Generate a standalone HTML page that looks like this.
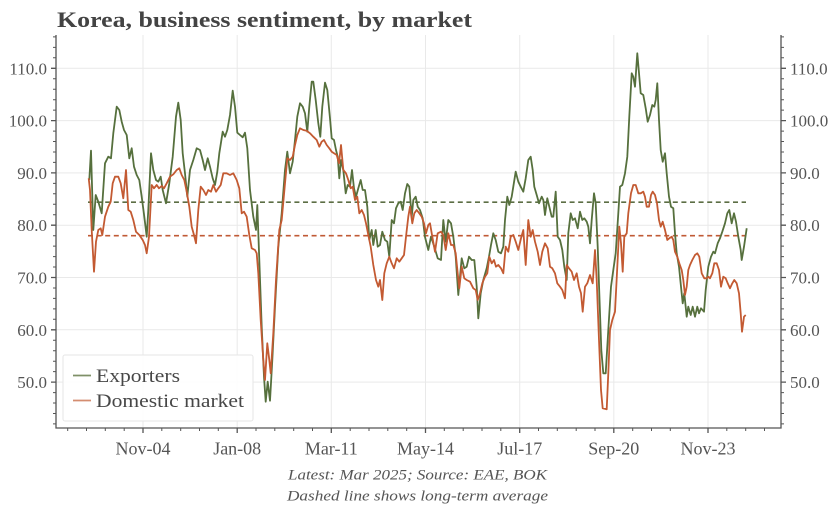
<!DOCTYPE html>
<html><head><meta charset="utf-8"><style>
html,body{margin:0;padding:0;background:#fff;}
svg{display:block;}
text{font-family:"Liberation Serif",serif;}
</style></head><body>
<svg width="835" height="506" viewBox="0 0 835 506" xmlns="http://www.w3.org/2000/svg">
<rect width="835" height="506" fill="#fff"/>
<text x="57" y="27" font-size="22" font-weight="bold" fill="#434343" textLength="415" lengthAdjust="spacingAndGlyphs">Korea, business sentiment, by market</text>
<!-- grid -->
<g stroke="#e9e9e9" stroke-width="1">
<path d="M56 68.3H781M56 120.6H781M56 172.9H781M56 225.2H781M56 277.5H781M56 329.8H781M56 382.1H781"/>
<path d="M143 35V428M237.2 35V428M331.3 35V428M425.5 35V428M519.7 35V428M613.8 35V428M708 35V428"/>
</g>
<!-- dashed averages -->
<line x1="88" y1="202.2" x2="746" y2="202.2" stroke="#5c6e44" stroke-width="1.6" stroke-dasharray="5,3.6"/>
<line x1="88" y1="235.7" x2="746" y2="235.7" stroke="#c05a35" stroke-width="1.6" stroke-dasharray="5,3.6"/>
<!-- exporters -->
<polyline fill="none" stroke="#56703d" stroke-width="1.8" stroke-linejoin="round" points="89.3,180 91,150.7 93.3,230 95.7,195 98.3,201.7 101.7,213.3 105,163.3 108.3,156.7 111,158.3 113.3,133.3 116.7,106.7 119.3,110 121.7,121.7 124,130 126.7,135 129.3,158.3 131.7,148.3 134,166.7 136.7,175 139.3,180 141.7,196.7 144.3,216.7 146.7,236.7 148.3,210 151,153.3 153.3,170 156,180 158.3,181.7 160.7,176.7 162.7,190 166,203.3 169.3,183.3 172.7,156.7 176,116.7 178.3,102.7 180.7,120 182.7,153.3 185,173.3 187.3,196.7 190,170 193.3,160 196.7,148.3 200,150 202.7,160 205,170 207.7,158.3 210,166.7 212.7,178.3 215,185 217.3,171.7 219.3,153.3 222.7,131.7 225,136.7 227.3,130 230,115 232.7,90.7 235,106.7 237.3,132.7 240,135 242.7,137.3 245,132.7 247.3,148.3 250,190 253.3,216.7 256,230 257.3,205 259.3,260 261.7,326.7 264,376.7 265.7,401.7 267.7,381.7 270,400.7 272.3,360 275,306.7 278.3,246.7 281.7,213.3 285,170 287.3,151.7 290,173.3 292.7,161.7 295,140 297.3,116.7 300,103.3 302.7,106.7 305,113.3 307.3,131.7 309.3,106.7 311.7,81.7 313.3,81.7 315.7,100 318.3,123.3 320.3,136.7 322.3,106.7 325,82.7 327.3,90 330,118.3 331.7,138.3 334,140 336,150 337.7,156.7 339.3,178.3 341,160 343.3,170 345.7,193.3 347.7,185 350,186.7 352,170 354,188.3 356,196.7 358.3,188.3 360.7,180 362.7,190 365,190 367.3,206.7 369.3,240 371.7,230 373.3,245 375.7,230 377.7,246.7 380,245 382.3,231.7 385,240 387.3,241.7 389.3,256.7 391.7,220 394,223.3 396,208.3 398.3,203.3 400.7,201.7 402.7,210 405,193.3 407.3,184 409.3,186.7 411.7,216.7 413.3,200 415.7,196.7 417.7,206.7 420,210 422.7,218.3 425,237 428.3,250 431,236.7 434.3,246.7 437.7,258.3 441,260 443.3,220 445.7,241.7 448.3,220 451,223.3 453.3,236.7 455.7,256.7 458.3,295 461.7,258.3 464.3,268.3 466.7,266.7 469,256.7 471.7,260 474.3,260 476.7,286.7 478.3,318.3 480.7,293.3 483.3,280 486.7,268.3 489,256.7 491,245 493.3,233.3 495.7,240 498.3,251.7 501,253.3 503.3,246.7 505,220 507.3,196.7 509.3,205 511.7,196.7 513.3,186.7 515.7,171.7 518.3,181.7 520.7,186.7 523.3,191.7 525.7,178.3 528.3,160 530.7,156.7 532.7,170 534.3,186.7 536.7,195 539,203.3 541.7,196.7 543.3,200 545,215 547.3,198.3 549.3,206.7 551.7,216.7 553.3,216.7 555.7,191.7 557.7,236.7 560,240 562.3,250 564.3,266.7 566.7,280 568.3,233.3 570.7,213.3 572.7,220 575,218.3 577.7,228.3 580,211.7 582.3,220 584.3,218.3 586.7,221.7 588.3,226.7 590,243.3 591.7,220 594,193.3 595.7,203.3 597.7,246.7 599.3,293.3 601.3,350 603.3,373.3 605.7,373.3 608.3,330 611,286.7 613.3,270 615.7,253.3 618.3,213.3 620,186.7 622.3,185 625,173.3 627.3,156.7 629.3,116.7 631.7,73.3 633.3,76.7 635,86.7 637.3,53.3 639.3,76.7 640.7,93.3 643.3,95 645.7,108.3 647.7,121.7 650,115 652.3,105 654.3,106.7 655.7,100 657.3,83.3 659,120 660.7,150 662.7,161.7 665,153.3 666.7,173.3 669,196.7 671,206.7 673.3,208.3 675,233.3 676.7,253.3 679,266.7 681,286.7 682.7,303.3 684.3,293.3 686.7,316.7 688.3,306.7 690.7,315 692.7,306.7 695,316.7 697.3,306.7 699,313.3 701,308.3 704,311.7 705.7,290 708.3,266.7 711,256.7 713.3,251.7 715,253.3 717.7,243.3 720,238.3 722.3,231.7 725,223.3 727.3,213.3 729.3,210 731.7,223.3 734,213.3 736,221.7 738.3,236.7 740.7,250 741.7,260 744,246.7 746.7,228.3"/>
<!-- domestic -->
<polyline fill="none" stroke="#c35a32" stroke-width="1.8" stroke-linejoin="round" points="88.7,178.3 90,190 91.7,230 94,271.7 96,241.7 98.3,230 100.7,228.3 102.3,235 105,216.7 108.3,206.7 110.7,201.7 112.7,183.3 115,176.7 118.3,176.7 120.7,183.3 123.3,198.3 126,170 128.3,210 130.7,211.7 133.3,220 136,231.7 139.3,235 142.7,240 145,245 146.7,253.3 149,236.7 151.7,185 154,188.3 156.7,185 159,188.3 161.7,186 164,188.3 166.7,183.3 170,176.7 173.3,174.3 176.7,170 179.3,168.3 181.7,175 184.3,180 186.7,191.7 189.3,206.7 191.7,226.7 194,235 196,243.3 198.3,210 200.7,186.7 203.3,190 206,195 208.3,190 211,191.7 213.3,185 216,191.7 218.3,188.3 220.7,185 223.3,173.3 226.7,173.3 230,175 233.3,173.3 236.7,180 239.3,188.3 241.7,213.3 244,211.7 246.7,216.7 249.3,235 251.7,248.3 255,250 256.7,253.3 258.3,273.3 260.7,320 263.3,360 265,380 267.3,343.3 269.3,360 270.7,373.3 273.3,333.3 276,280 279.3,230 281.7,220 285,183.3 287.3,158.3 290,160 292.7,156.7 295,145 297.3,135 300,128.3 303.3,130 306.7,130.7 310,133.3 313.3,136.7 316.7,140 319.3,146.7 321.7,141.7 324,140 326.7,145 329.3,148.3 331.7,151.7 334,153.3 336.7,155 339,163.3 341,145 343.3,170 346,173.3 348.3,180 350.7,188.3 352.7,186.7 355,200 357.3,196.7 359.3,213.3 361.7,210 364,215 366,223.3 368.3,235 370.7,246.7 373.3,265 376,280 378.3,286.7 380,280 382.3,300 384.3,273.3 386.7,263.3 389.3,256.7 391.7,263.3 394,268.3 396.7,258.3 399.3,261.7 401.7,258.3 404,255 406,236.7 408.3,216.7 410,206.7 412.3,223.3 414.3,213.3 416.7,210 419.3,213.3 421.7,216.7 424,223.3 426,233.3 428.3,225 430,223.3 432.3,236.7 435,251.7 437.7,233.3 441,231.7 443.3,235 445.7,250 448.3,233.3 451,245 453.3,245 455.7,253.3 457.7,273.3 459.3,288.3 461.7,266.7 464.3,278.3 466.7,280 470,281.7 473.3,288.3 475.7,290 477.7,300 480,293.3 482.3,283.3 485,276.7 487.3,273.3 489.3,256.7 491.7,263.3 494,260 496,266.7 498.3,265 501,268.3 503.3,273.3 505.7,246.7 508.3,251.7 510.7,236.7 513.3,235 515.7,241.7 518.3,250 521,238.3 523.3,230 525.7,265 528.3,220 530.7,236.7 532.7,230 535,241.7 537.7,251.7 540,265 542.3,251.7 545,243.3 547.7,248.3 550,266.7 552.3,268.3 555,273.3 557.3,283.3 560,286.7 562.3,290 565,298.3 566.7,265 569,268.3 571.7,271.7 574,280 576.7,273.3 579,286.7 581,293.3 582.7,311.7 585,286.7 587.3,283.3 590,275 592.7,283.3 595,250 596.7,280 599,340 601,390 602.7,408.3 606.7,409.3 608.3,373.3 610,330 612.3,320 615,311.7 617.3,266.7 619.3,226.7 621,243.3 622.7,271.7 624.3,236.7 626.7,233.3 628.3,213.3 631,193.3 633.3,185 635.7,185 638.3,193.3 640.7,193.3 643.3,191.7 645,196.7 646.7,206.7 649,206.7 651,195 652.7,191.7 655,195 657,203.3 659,220 660.7,226.7 662.7,221.7 665,230 667.3,240 669.3,238.3 671.7,236.7 673.3,240 675,251.7 677.3,256.7 679.3,263.3 681.7,270 683.3,280 685,295 686.7,286.7 688.3,270 690,265 692.3,260 695,255 697.3,253.3 699.3,256.7 701.7,273.3 704.3,278.3 706.7,278.3 708.3,276.7 710,278.3 712.3,273.3 714.3,263.3 716.7,263.3 719,270 721,286.7 723.3,276.7 725.7,278.3 727.7,283.3 730,288.3 732.3,283.3 734.3,280 736.7,283.3 739,293.3 740.7,313.3 742,331.7 744,316.7 745.7,315"/>
<!-- spines -->
<g stroke="#555" stroke-width="1.3" fill="none">
<path d="M56 35V428H781V35"/>
<path d="M51 68.3H56M51 120.6H56M51 172.9H56M51 225.2H56M51 277.5H56M51 329.8H56M51 382.1H56"/>
<path d="M781 68.3H786M781 120.6H786M781 172.9H786M781 225.2H786M781 277.5H786M781 329.8H786M781 382.1H786"/>
</g>
<g stroke="#555" stroke-width="1" fill="none">
<path d="M53 36.9H56M53 47.4H56M53 57.8H56M53 78.8H56M53 89.2H56M53 99.7H56M53 110.1H56M53 131.1H56M53 141.5H56M53 152H56M53 162.4H56M53 183.4H56M53 193.8H56M53 204.3H56M53 214.7H56M53 235.7H56M53 246.1H56M53 256.6H56M53 267H56M53 288H56M53 298.4H56M53 308.9H56M53 319.3H56M53 340.3H56M53 350.7H56M53 361.2H56M53 371.6H56M53 392.6H56M53 403H56M53 413.5H56M53 423.9H56"/>
<path d="M781 36.9H784M781 47.4H784M781 57.8H784M781 78.8H784M781 89.2H784M781 99.7H784M781 110.1H784M781 131.1H784M781 141.5H784M781 152H784M781 162.4H784M781 183.4H784M781 193.8H784M781 204.3H784M781 214.7H784M781 235.7H784M781 246.1H784M781 256.6H784M781 267H784M781 288H784M781 298.4H784M781 308.9H784M781 319.3H784M781 340.3H784M781 350.7H784M781 361.2H784M781 371.6H784M781 392.6H784M781 403H784M781 413.5H784M781 423.9H784"/>
<path d="M67.7 428V431M86.5 428V431M105.3 428V431M124.2 428V431M161.8 428V431M180.7 428V431M199.5 428V431M218.3 428V431M256 428V431M274.8 428V431M293.7 428V431M312.5 428V431M350.2 428V431M369 428V431M387.8 428V431M406.7 428V431M444.3 428V431M463.2 428V431M482 428V431M500.8 428V431M538.5 428V431M557.3 428V431M576.2 428V431M595 428V431M632.7 428V431M651.5 428V431M670.3 428V431M689.2 428V431M726.8 428V431M745.7 428V431M764.5 428V431"/>
</g>
<g stroke="#555" stroke-width="1.3">
<path d="M143 428V433M237.2 428V433M331.3 428V433M425.5 428V433M519.7 428V433M613.8 428V433M708 428V433"/>
</g>
<!-- y labels -->
<g font-size="17" fill="#555" text-anchor="end">
<text x="47" y="74.3">110.0</text>
<text x="47" y="126.6">100.0</text>
<text x="47" y="178.9">90.0</text>
<text x="47" y="231.2">80.0</text>
<text x="47" y="283.5">70.0</text>
<text x="47" y="335.8">60.0</text>
<text x="47" y="388.1">50.0</text>
</g>
<g font-size="17" fill="#555" text-anchor="start">
<text x="790" y="74.3">110.0</text>
<text x="790" y="126.6">100.0</text>
<text x="790" y="178.9">90.0</text>
<text x="790" y="231.2">80.0</text>
<text x="790" y="283.5">70.0</text>
<text x="790" y="335.8">60.0</text>
<text x="790" y="388.1">50.0</text>
</g>
<!-- x labels -->
<g font-size="18" fill="#555" text-anchor="middle">
<text x="143" y="454.5">Nov-04</text>
<text x="237.2" y="454.5">Jan-08</text>
<text x="331.3" y="454.5">Mar-11</text>
<text x="425.5" y="454.5">May-14</text>
<text x="519.7" y="454.5">Jul-17</text>
<text x="613.8" y="454.5">Sep-20</text>
<text x="708" y="454.5">Nov-23</text>
</g>
<!-- legend -->
<rect x="63" y="355" width="190" height="66" fill="#fff" fill-opacity="0.9" stroke="#e6e6e6" stroke-width="1" rx="2"/>
<line x1="73" y1="375.5" x2="91" y2="375.5" stroke="#7f9068" stroke-width="1.7"/>
<line x1="73" y1="400.5" x2="91" y2="400.5" stroke="#d48d70" stroke-width="1.7"/>
<text x="96" y="382" font-size="19" fill="#474747" textLength="84" lengthAdjust="spacingAndGlyphs">Exporters</text>
<text x="96" y="407" font-size="19" fill="#474747" textLength="148" lengthAdjust="spacingAndGlyphs">Domestic market</text>
<!-- footnotes -->
<text x="417.5" y="479.5" font-size="15" font-style="italic" fill="#555" text-anchor="middle" textLength="259" lengthAdjust="spacingAndGlyphs">Latest: Mar 2025; Source: EAE, BOK</text>
<text x="417.5" y="500.5" font-size="15" font-style="italic" fill="#555" text-anchor="middle" textLength="261" lengthAdjust="spacingAndGlyphs">Dashed line shows long-term average</text>
</svg>
</body></html>
